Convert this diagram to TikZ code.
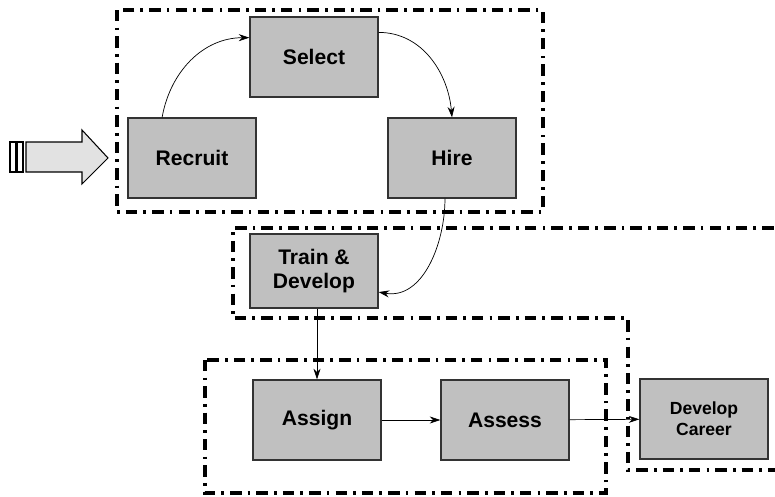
\documentclass[tikz,border=0pt]{standalone}
\usepackage{fontspec}
\setmainfont{Liberation Sans}
\usepackage{tikz}
\usetikzlibrary{arrows.meta, positioning}
\tikzset{>={Stealth[length=6pt,width=4pt]}}
\definecolor{boxgray}{HTML}{C0C0C0}
\definecolor{arrowgray}{HTML}{E2E2E2}
\tikzset{
  stage/.style={draw=black!80, fill=boxgray, line width=0.8pt, minimum width=2.56cm, minimum height=1.6cm, align=center, font=\bfseries\large},
  phase/.style={line width=1.9pt, dash pattern=on 6.5pt off 3.5pt on 1.5pt off 3.5pt},
}

\begin{document}
\begin{tikzpicture}[x=0.02cm, y=-0.02cm]
			\useasboundingbox (0,0) rectangle (775,497);
			% groups of stages
			\draw [phase] (117,10) rectangle (543,212);
			\draw [phase] (800,228) -- (233,228) -- (233,318) -- (628,318) -- (628,470) -- (800,470);
			\draw [phase] (205,360) rectangle (606,493);
			% entry arrow
			\draw [fill=arrowgray, line width=0.6pt] (26,142) -- (82,142) -- (82,130) -- (108,158) -- (82,184) -- (82,172) -- (26,172) -- cycle;
			\draw [fill=white, line width=0.6pt] (10,142) rectangle (16,172);
			\draw [fill=white, line width=0.6pt] (17,142) rectangle (23,172);
			% stages
			\node[stage] (select) at (314,57) {Select};
			\node[stage] (recruit) at (192,158) {Recruit};
			\node[stage] (hire) at (452,158) {Hire};
			\node[stage, minimum height=1.48cm] (train) at (314,271) {Train \&\\Develop};
			\node[stage] (assign) at (317,420) {Assign};
			\node[stage] (assess) at (505,420) {Assess};
			\node[stage, font=\bfseries] (career) at (704,419) {Develop\\Career};
			% flow
			\draw[->] ([xshift=-17pt]recruit.north) to[out=80, in=180] ([yshift=11pt]select.west);
			\draw[->] ([yshift=14pt]select.east) to[out=0, in=95] (hire.north);
			\draw[->] ([xshift=-4pt]hire.south) to[out=-90, in=-10] ([yshift=-12pt]train.east);
			\draw[->] (assign.north |- train.south) -- (assign.north);
			\draw[->] (assign) -- (assess);
			\draw[->] (assess) -- (career);
		\end{tikzpicture}
\end{document}
